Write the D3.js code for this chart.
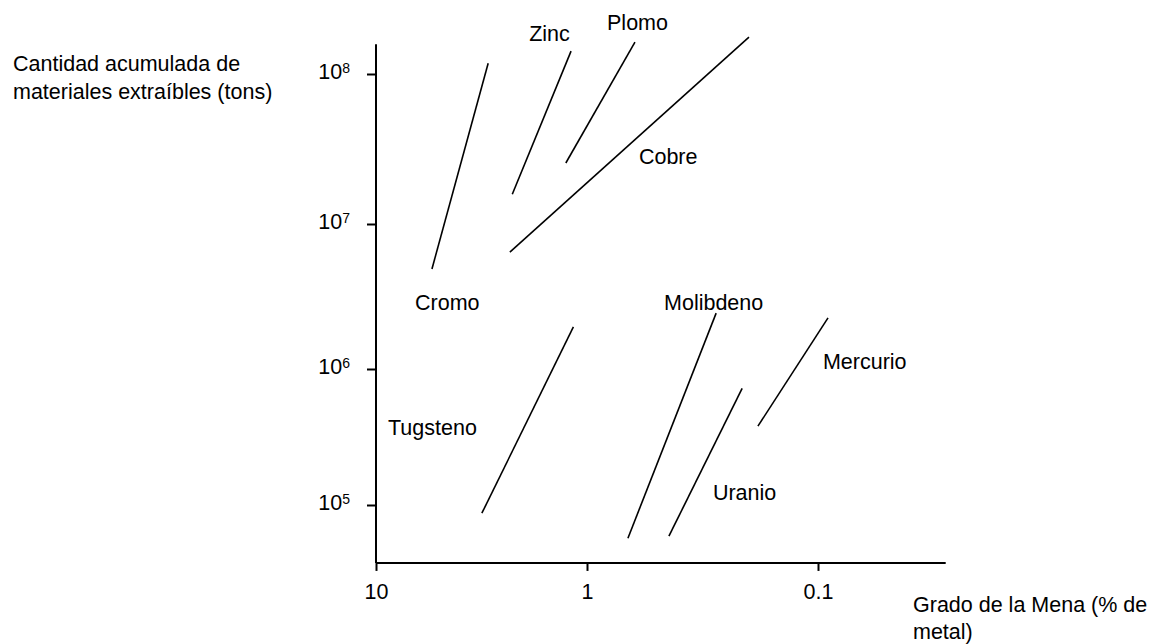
<!DOCTYPE html>
<html>
<head>
<meta charset="utf-8">
<script src="https://cdn.jsdelivr.net/npm/d3@7"></script>
<style>
  html, body { margin: 0; padding: 0; background: #fff; }
  svg { display: block; font-family: "Liberation Sans", Arial, sans-serif; }
</style>
</head>
<body>
<svg id="chart" width="1154" height="644"></svg>
<script>
// ---- data ----
const metals     = ["Cromo", "Zinc", "Plomo", "Cobre", "Tugsteno", "Molibdeno", "Uranio", "Mercurio"];
// ore grade (% metal) and cumulative tonnage at the low-tonnage end of each line
const gradeLow   = [5.43, 2.26, 1.26, 2.32, 3.15, 0.665, 0.442, 0.182];
const tonsLow    = [4.9e6, 1.58e7, 2.55e7, 6.4e6, 8.7e4, 5.7e4, 5.9e4, 3.8e5];
// ore grade and cumulative tonnage at the high-tonnage end of each line
const gradeHigh  = [2.94, 1.19, 0.62, 0.199, 1.16, 0.276, 0.213, 0.0905];
const tonsHigh   = [1.18e8, 1.42e8, 1.63e8, 1.76e8, 1.95e6, 2.43e6, 7.2e5, 2.25e6];
// where each metal's name is written (grade, tons)
const labelGrade = [6.53, 1.88, 0.819, 0.596, 8.77, 0.464, 0.285, 0.0952];
const labelTons  = [2.55e6, 1.66e8, 1.96e8, 2.51e7, 3.27e5, 2.55e6, 1.09e5, 1.0e6];

const xTicks      = [10, 1, 0.1];
const xTickLabels = ["10", "1", "0.1"];
const yTicks      = [1e5, 1e6, 1e7, 1e8];
const yTickExp    = ["5", "6", "7", "8"];
const xAxisEnd    = 0.028;   // grade where the x axis line stops
const yAxisTop    = 1.58e8;  // tonnage where the y axis line stops
const yAxisBottom = 3.75e4;  // tonnage at the x axis

const xTitle = ["Grado de la Mena (% de", "metal)"];
const yTitle = ["Cantidad acumulada de", "materiales extraíbles (tons)"];

// ---- drawing ----
const svg = d3.select("#chart");
const FS = 21.5;

const x = d3.scaleLog().domain(xTicks).range([376, 587, 818]);
const y = d3.scaleLog().domain(yTicks).range([505, 369, 224, 74]);

const x0 = x(xTicks[0]);
const yBase = y(yAxisBottom);

// axis lines
svg.append("line")
  .attr("x1", x0).attr("x2", x(xAxisEnd))
  .attr("y1", yBase).attr("y2", yBase)
  .attr("stroke", "#000").attr("stroke-width", 2);
svg.append("line")
  .attr("x1", x0).attr("x2", x0)
  .attr("y1", yBase).attr("y2", y(yAxisTop))
  .attr("stroke", "#000").attr("stroke-width", 2);

// x axis ticks + labels
const xAxis = d3.axisBottom(x).tickValues(xTicks).tickSize(8).tickPadding(10)
  .tickFormat((d, i) => xTickLabels[i]);
const gx = svg.append("g").attr("transform", `translate(0,${yBase})`).call(xAxis);
gx.select(".domain").remove();
gx.selectAll(".tick line").attr("stroke", "#000").attr("stroke-width", 2);
gx.selectAll(".tick text").attr("font-size", FS).attr("font-family", "Liberation Sans, Arial, sans-serif")
  .attr("fill", "#000").attr("dy", "0.85em");

// y axis ticks + labels (10 with superscript exponent)
const yAxis = d3.axisLeft(y).tickValues(yTicks).tickSize(9).tickPadding(17)
  .tickFormat(() => "");
const gy = svg.append("g").attr("transform", `translate(${x0},0)`).call(yAxis);
gy.select(".domain").remove();
gy.selectAll(".tick line").attr("stroke", "#000").attr("stroke-width", 2);
gy.selectAll(".tick text").each(function(d, i) {
  const t = d3.select(this)
    .attr("font-size", FS).attr("font-family", "Liberation Sans, Arial, sans-serif")
    .attr("fill", "#000").attr("dy", "0.2em").text(null);
  t.append("tspan").text("10");
  t.append("tspan").attr("font-size", 14).attr("dy", "-0.45em").text(yTickExp[i]);
});

// metal lines
const series = metals.map((m, i) => ({
  name: m,
  pts: [[gradeLow[i], tonsLow[i]], [gradeHigh[i], tonsHigh[i]]],
  lab: [labelGrade[i], labelTons[i]]
}));
const line = d3.line().x(d => x(d[0])).y(d => y(d[1]));
svg.append("g").selectAll("path").data(series).join("path")
  .attr("d", d => line(d.pts))
  .attr("fill", "none").attr("stroke", "#000").attr("stroke-width", 1.6);

// metal names
svg.append("g").selectAll("text").data(series).join("text")
  .attr("x", d => x(d.lab[0])).attr("y", d => y(d.lab[1]))
  .attr("font-size", FS).attr("fill", "#000")
  .text(d => d.name);

// axis titles
svg.append("text").attr("x", 913).attr("y", 612).attr("font-size", FS).attr("fill", "#000")
  .selectAll("tspan").data(xTitle).join("tspan")
  .attr("x", 913).attr("dy", (d, i) => i === 0 ? 0 : 27).text(d => d);
svg.append("text").attr("x", 13).attr("y", 71).attr("font-size", FS).attr("fill", "#000")
  .selectAll("tspan").data(yTitle).join("tspan")
  .attr("x", 13).attr("dy", (d, i) => i === 0 ? 0 : 28).text(d => d);
</script>
</body>
</html>
